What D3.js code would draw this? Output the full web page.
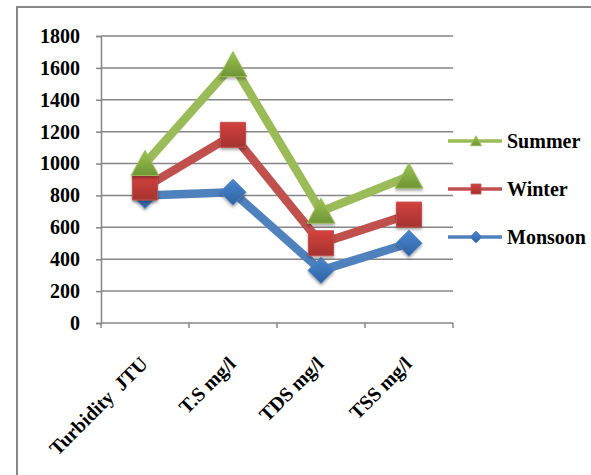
<!DOCTYPE html>
<html>
<head>
<meta charset="utf-8">
<script src="https://cdn.jsdelivr.net/npm/d3@7"></script>
<style>
  html, body { margin: 0; padding: 0; background: #ffffff; }
  svg { display: block; }
</style>
</head>
<body>
<svg id="chart" width="591" height="475"></svg>
<script>
// Water quality parameters by season
const categories = ["Turbidity  JTU", "T.S mg/l", "TDS mg/l", "TSS mg/l"];
const seriesNames = ["Summer", "Winter", "Monsoon"];
const summer  = [1000, 1620, 700, 920];
const winter  = [850, 1180, 500, 680];
const monsoon = [800, 820, 330, 500];
const yTicks = [0, 200, 400, 600, 800, 1000, 1200, 1400, 1600, 1800];

const series = [
  { name: "Monsoon", values: monsoon, color: "#4F81BD", top: "#4A86CF", bottom: "#2F63A3", shape: "diamond" },
  { name: "Winter",  values: winter,  color: "#C0504D", top: "#D4413D", bottom: "#A33330", shape: "square" },
  { name: "Summer",  values: summer,  color: "#9BBB59", top: "#9CC44F", bottom: "#6E9436", shape: "triangle" }
];

const svg = d3.select("#chart");
const gray = "#868686";
const fontFamily = '"Liberation Serif", "Times New Roman", serif';
const styleText = sel => sel
  .style("font-family", fontFamily)
  .style("font-weight", "bold")
  .style("font-size", "20px")
  .style("fill", "#000");

// outer frame
svg.append("path")
  .attr("d", "M17,475 L17,7 L591,7")
  .attr("fill", "none").attr("stroke", gray).attr("stroke-width", 2);

const x = d3.scaleBand().domain(categories).range([101, 453]).padding(0);
const y = d3.scaleLinear().domain([0, 1800]).range([323, 36]);
const cx = c => x(c) + x.bandwidth() / 2;

const defs = svg.append("defs");
series.forEach((s, i) => {
  const g = defs.append("linearGradient").attr("id", "grad" + i)
    .attr("x1", 0).attr("y1", 0).attr("x2", 0).attr("y2", 1);
  g.append("stop").attr("offset", "0%").attr("stop-color", s.top);
  g.append("stop").attr("offset", "100%").attr("stop-color", s.bottom);
});
const shadow = defs.append("filter").attr("id", "shadow")
  .attr("x", "-50%").attr("y", "-50%").attr("width", "200%").attr("height", "200%");
shadow.append("feDropShadow").attr("dx", 0).attr("dy", 2).attr("stdDeviation", 1.5)
  .attr("flood-color", "#000").attr("flood-opacity", 0.35);

// gridlines
svg.append("g").selectAll("line").data(yTicks.filter(t => t > 0)).join("line")
  .attr("x1", 101).attr("x2", 453)
  .attr("y1", d => y(d)).attr("y2", d => y(d))
  .attr("stroke", gray).attr("stroke-width", 1.5);

// y axis
const yAxis = svg.append("g").attr("transform", "translate(101,0)")
  .call(d3.axisLeft(y).tickValues(yTicks).tickSize(5).tickPadding(16).tickFormat(d3.format("d")));
yAxis.select(".domain").attr("stroke", gray).attr("stroke-width", 1.5);
yAxis.selectAll(".tick line").attr("stroke", gray).attr("stroke-width", 1.5);
yAxis.selectAll("text").call(styleText);

// x axis: ticks at category boundaries
const xg = svg.append("g");
xg.append("line").attr("x1", 101).attr("x2", 453).attr("y1", 323).attr("y2", 323)
  .attr("stroke", gray).attr("stroke-width", 1.5);
const bounds = categories.map(c => x(c)).concat([x.range()[1]]);
xg.selectAll("line.tk").data(bounds).join("line").attr("class", "tk")
  .attr("x1", d => d).attr("x2", d => d).attr("y1", 323).attr("y2", 328)
  .attr("stroke", gray).attr("stroke-width", 1.5);
xg.selectAll("text").data(categories).join("text")
  .attr("transform", d => `translate(${cx(d) + 4},${365}) rotate(-45)`)
  .attr("text-anchor", "end")
  .style("white-space", "pre")
  .call(styleText)
  .text(d => d);

// marker shapes
function markerPath(shape, r) {
  if (shape === "diamond") return `M0,${-r}L${r},0L0,${r}L${-r},0Z`;
  if (shape === "square") return `M${-r},${-r}H${r}V${r}H${-r}Z`;
  return `M0,${-r * 1.05}L${r * 1.1},${r * 0.95}H${-r * 1.1}Z`;
}

const line = d3.line().x((d, i) => cx(categories[i])).y(d => y(d));

series.forEach((s, i) => {
  const g = svg.append("g");
  g.append("path").datum(s.values).attr("d", line)
    .attr("fill", "none").attr("stroke", s.color).attr("stroke-width", 8.5)
    .attr("stroke-linejoin", "round");
  const size = s.shape === "diamond" ? 13 : 12.5;
  g.selectAll("path.m").data(s.values).join("path").attr("class", "m")
    .attr("transform", (d, j) => `translate(${cx(categories[j])},${y(d)})`)
    .attr("d", markerPath(s.shape, size))
    .attr("fill", `url(#grad${i})`)
    .attr("stroke", s.color).attr("stroke-width", 1)
    .attr("stroke-linejoin", "round")
    .attr("filter", "url(#shadow)");
});

// legend
const legendY = { Summer: 141, Winter: 189, Monsoon: 237 };
seriesNames.forEach(name => {
  const s = series.find(d => d.name === name);
  const i = series.indexOf(s);
  const ly = legendY[name];
  const lg = svg.append("g").attr("transform", `translate(0,${ly})`);
  lg.append("line").attr("x1", 448).attr("x2", 502).attr("y1", 0).attr("y2", 0)
    .attr("stroke", s.color).attr("stroke-width", 3.5);
  lg.append("path").attr("transform", "translate(476,0)")
    .attr("d", markerPath(s.shape, s.shape === "diamond" ? 6 : 5))
    .attr("fill", `url(#grad${i})`).attr("stroke", s.color).attr("stroke-width", 0.8);
  lg.append("text").attr("x", 507).attr("y", 0).attr("dy", "0.34em")
    .call(styleText)
    .text(name);
});
</script>
</body>
</html>
